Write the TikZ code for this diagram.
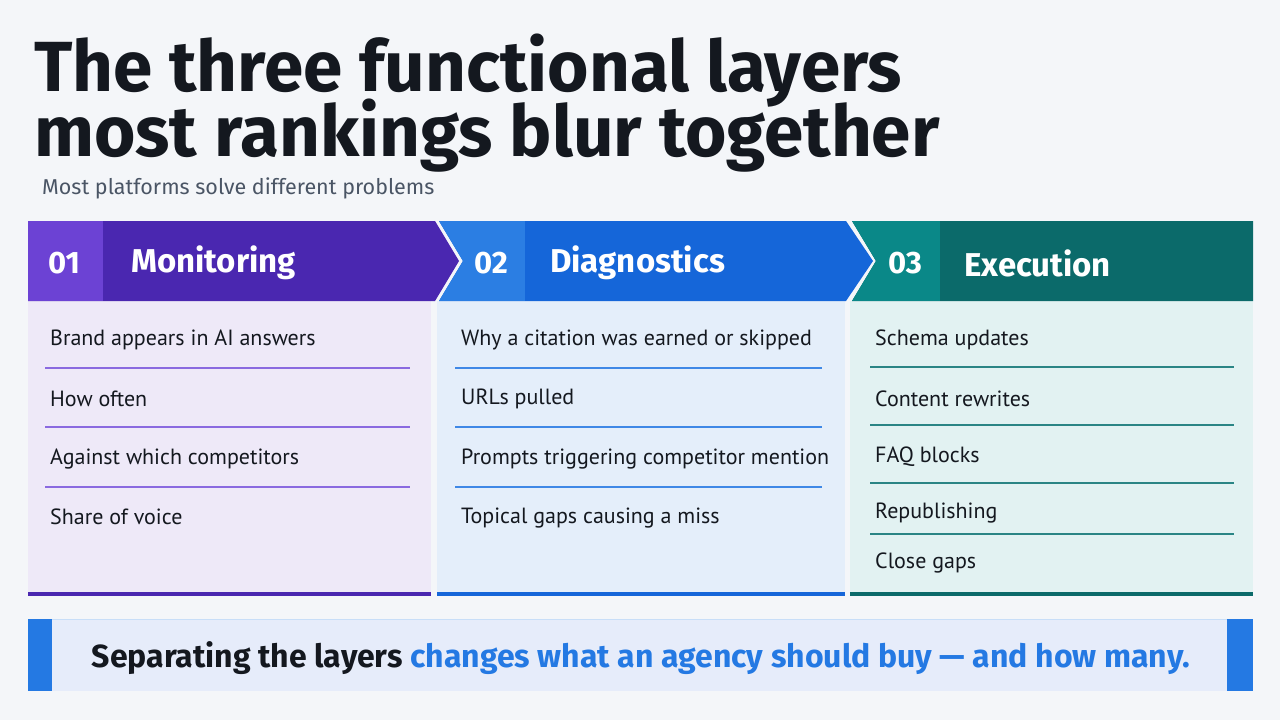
\documentclass[tikz,border=0pt]{standalone}
\usepackage{fontspec}
\setmainfont{Fira Sans}
\newfontfamily\itemfont{PT Sans}
\usetikzlibrary{calc}
\definecolor{bg}{HTML}{F4F6F9}
\definecolor{pA}{HTML}{4A27B0}\definecolor{pAl}{HTML}{6C42D4}\definecolor{pB}{HTML}{EEE9F8}\definecolor{pL}{HTML}{8A6AE0}
\definecolor{bA}{HTML}{1566D9}\definecolor{bAl}{HTML}{2B7EE3}\definecolor{bB}{HTML}{E4EEFA}\definecolor{bL}{HTML}{3F88E6}
\definecolor{tA}{HTML}{0B6A6A}\definecolor{tAl}{HTML}{0A8888}\definecolor{tB}{HTML}{E2F2F2}\definecolor{tL}{HTML}{2A8585}
\definecolor{ink}{HTML}{14181F}\definecolor{sub}{HTML}{4A5565}\definecolor{ban}{HTML}{E6ECFA}\definecolor{banb}{HTML}{2479E3}
\begin{document}
\begin{tikzpicture}[x=1pt,y=-1pt,
  item/.style={anchor=west,font=\itemfont\fontsize{22}{25}\selectfont,text=ink,inner sep=0},
  num/.style={anchor=center,font=\bfseries\fontsize{31}{34}\selectfont,text=white,inner sep=0},
  head/.style={anchor=west,font=\bfseries\fontsize{33}{36}\selectfont,text=white,inner sep=0}]
\fill[bg] (0,0) rectangle (1280,720);
\node[anchor=base west,inner sep=0,font=\bfseries\fontsize{71}{71}\selectfont,text=ink] (t1) at (34,91) {The three functional layers};
\node[anchor=base west,inner sep=0,font=\bfseries\fontsize{71}{71}\selectfont,text=ink] (t2) at (34,156) {most rankings blur together};
\node[anchor=base west,inner sep=0,font=\fontsize{21.5}{24}\selectfont,text=sub] (st) at (42,194) {Most platforms solve different problems};
% bodies
\fill[pB] (28,301) rectangle (431,594);
\fill[bB] (437,301) rectangle (845,594);
\fill[tB] (850,301) rectangle (1253,594);
\fill[pA] (28,592) rectangle (431,596);
\fill[bA] (437,592) rectangle (845,596);
\fill[tA] (850,592) rectangle (1253,596);
% headers
\fill[pA] (28,221) -- (435,221) -- (459,261) -- (435,301) -- (28,301) -- cycle;
\fill[pAl] (28,221) rectangle (103,301);
\fill[bA] (439,221) -- (846,221) -- (873,261) -- (846,301) -- (439,301) -- (463,261) -- cycle;
\begin{scope}\clip (439,221) -- (846,221) -- (873,261) -- (846,301) -- (439,301) -- (463,261) -- cycle;
\fill[bAl] (430,221) rectangle (525,301);\end{scope}
\fill[tA] (852,221) -- (1253,221) -- (1253,301) -- (852,301) -- (876,261) -- cycle;
\begin{scope}\clip (852,221) -- (1253,221) -- (1253,301) -- (852,301) -- (876,261) -- cycle;
\fill[tAl] (840,221) rectangle (940,301);\end{scope}
\node[num] (n1) at (64,263) {01};
\node[head] (h1) at (131,263) {Monitoring};
\node[num] (n2) at (491,263) {02};
\node[head] (h2) at (550,263) {Diagnostics};
\node[num] (n3) at (905,263) {03};
\node[head] (h3) at (964,263) {Execution};
% col1
\foreach \y/\t [count=\i] in {340/Brand appears in AI answers,399/How often,459/Against which competitors,517/Share of voice}
  \node[item] (a\i) at (50,\y) {\t};
\foreach \y in {368,427,487} \draw[pL,line width=1.2pt] (45,\y) -- (410,\y);
\foreach \y/\t [count=\i] in {340/Why a citation was earned or skipped,399/URLs pulled,459/Prompts triggering competitor mention,518/Topical gaps causing a miss}
  \node[item] (b\i) at (461,\y) {\t};
\foreach \y in {368,427,487} \draw[bL,line width=1.2pt] (455,\y) -- (822,\y);
\foreach \y/\t [count=\i] in {340/Schema updates,399/Content rewrites,457/FAQ blocks,513/Republishing,563/Close gaps}
  \node[item] (c\i) at (875,\y) {\t};
\foreach \y in {367,425,483,534} \draw[tL,line width=1.2pt] (870,\y) -- (1234,\y);
% banner
\fill[ban] (28,619) rectangle (1253,691);
\draw[banb!25,line width=1pt] (28,619.5) -- (1253,619.5);
\fill[banb] (28,619) rectangle (52,691);
\fill[banb] (1227,619) rectangle (1253,691);
\node[inner sep=0,font=\bfseries\fontsize{32}{34}\selectfont] (bt) at (641,658) {\textcolor{ink}{Separating the layers} \textcolor{banb}{changes what an agency should buy — and how many.}};
\end{tikzpicture}
\end{document}
